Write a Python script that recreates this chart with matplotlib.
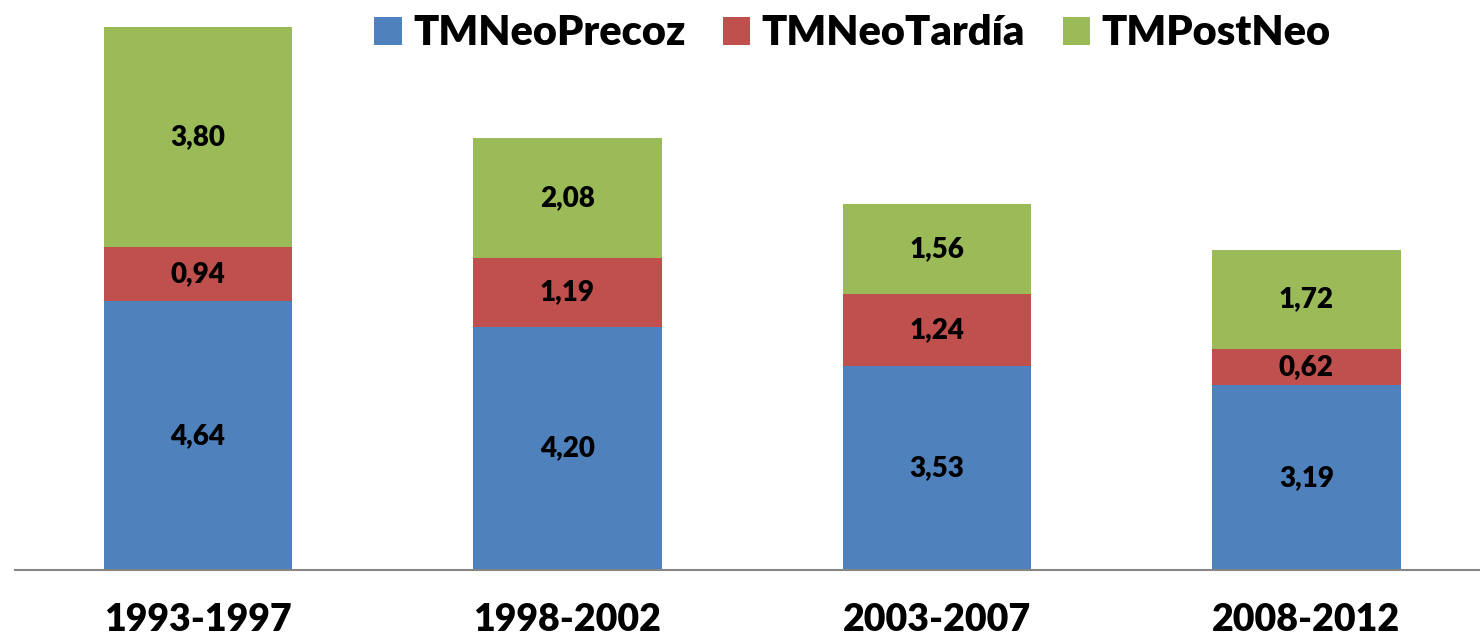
import numpy as np
import matplotlib.pyplot as plt

plt.rcParams['font.family'] = ['Lato', 'DejaVu Sans']

periods = ['1993-1997', '1998-2002', '2003-2007', '2008-2012']
neo_precoz = [4.64, 4.20, 3.53, 3.19]
neo_tardia = [0.94, 1.19, 1.24, 0.62]
post_neo = [3.80, 2.08, 1.56, 1.72]

series = [('TMNeoPrecoz', neo_precoz, '#4F81BD'),
          ('TMNeoTardía', neo_tardia, '#C0504D'),
          ('TMPostNeo', post_neo, '#9BBB59')]

fig = plt.figure(figsize=(14.8, 6.4), dpi=100)
ax = fig.add_axes([15 / 1480, 70 / 640, 1465 / 1480, 570 / 640])

x = np.arange(len(periods))
bottom = np.zeros(len(periods))
for name, vals, color in series:
    ax.bar(x, vals, width=0.51, bottom=bottom, color=color, label=name)
    for xi, b, v in zip(x, bottom, vals):
        ax.text(xi, b + v / 2, f'{v:.2f}'.replace('.', ','), ha='center', va='center',
                fontsize=20, fontweight='heavy', color='black')
    bottom += np.array(vals)

ax.set_xlim(-0.495, 3.47)
ax.set_ylim(0, 9.845)
ax.set_xticks(x)
ax.set_xticklabels(periods, fontsize=27, fontweight='heavy')
ax.tick_params(axis='x', length=0, pad=24)
ax.set_yticks([])
for s in ['top', 'right', 'left']:
    ax.spines[s].set_visible(False)
ax.spines['bottom'].set_color('#868686')
ax.spines['bottom'].set_linewidth(1.5)

fig.legend(loc='center', bbox_to_anchor=(0.576, 0.948), ncol=3, frameon=False,
           prop={'size': 30, 'weight': 'heavy'}, handlelength=0.65, handleheight=0.65,
           handletextpad=0.28, columnspacing=0.9)

fig.savefig('out.png', dpi=100)
